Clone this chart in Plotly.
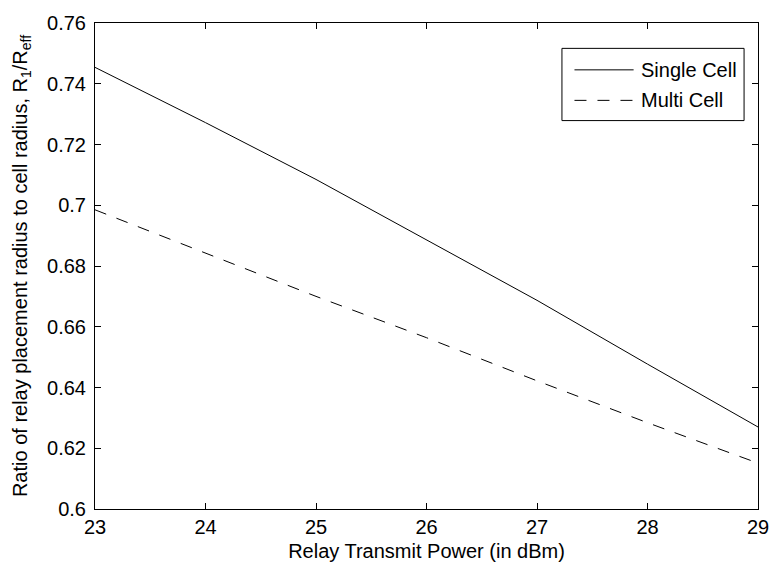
import plotly.graph_objects as go

# Relay transmit power (dBm)
power_dbm = [23, 24, 25, 26, 27, 28, 29]

# Ratio R1/Reff for each deployment scenario
single_cell = [0.7454, 0.7272, 0.7085, 0.6887, 0.6687, 0.6477, 0.6270]
multi_cell = [0.6985, 0.6843, 0.6700, 0.6564, 0.6422, 0.6284, 0.6151]

series_names = ["Single Cell", "Multi Cell"]
series_dash = ["solid", "12px,11px"]

y_ticks = [0.60, 0.62, 0.64, 0.66, 0.68, 0.70, 0.72, 0.74, 0.76]
y_tick_text = ["0.6", "0.62", "0.64", "0.66", "0.68", "0.7", "0.72", "0.74", "0.76"]
x_ticks = [23, 24, 25, 26, 27, 28, 29]

FONT = "Liberation Sans, Arial, sans-serif"

fig = go.Figure()
for name, values, dash in zip(series_names, [single_cell, multi_cell], series_dash):
    fig.add_trace(go.Scatter(
        x=power_dbm, y=values, mode="lines", name=name, showlegend=False,
        line=dict(color="black", width=1, dash=dash),
    ))

# Boxed legend in the upper right corner, with long line samples
box_x0, box_x1, box_y0, box_y1 = 0.7043, 0.979, 0.7992, 0.9478
fig.add_shape(type="rect", xref="paper", yref="paper",
              x0=box_x0, x1=box_x1, y0=box_y0, y1=box_y1,
              line=dict(color="black", width=1), fillcolor="white", layer="above")
row_y = [0.9036, 0.8408]
for name, dash, yy in zip(series_names, series_dash, row_y):
    fig.add_shape(type="line", xref="paper", yref="paper",
                  x0=0.7232, x1=0.8124, y0=yy, y1=yy,
                  line=dict(color="black", width=1, dash=dash), layer="above")
    fig.add_annotation(xref="paper", yref="paper", x=0.8202, y=yy,
                       xanchor="left", yanchor="middle", showarrow=False,
                       text=name, font=dict(family=FONT, size=20, color="black"))

axis_common = dict(
    showgrid=False, zeroline=False, showline=True, linecolor="black",
    linewidth=1, mirror="ticks", ticks="inside", ticklen=6,
    tickcolor="black", tickfont=dict(family=FONT, size=20, color="black"),
)

fig.update_layout(
    width=781, height=570,
    margin=dict(l=95, r=13, t=13, b=59),
    paper_bgcolor="white", plot_bgcolor="white",
    font=dict(family=FONT, size=20, color="black"),
    showlegend=False,
    xaxis=dict(
        range=[23, 29], tickvals=x_ticks,
        title=dict(text="Relay Transmit Power (in dBm)", standoff=6,
                   font=dict(family=FONT, size=20, color="black")),
        **axis_common,
    ),
    yaxis=dict(
        range=[0.6, 0.76], tickvals=y_ticks, ticktext=y_tick_text,
        ticklabelstandoff=4,
        title=dict(text="Ratio of relay placement radius to cell radius, R<sub>1</sub>/R<sub>eff</sub>",
                   standoff=14, font=dict(family=FONT, size=20, color="black")),
        **axis_common,
    ),
)

fig.write_html("out.html")
